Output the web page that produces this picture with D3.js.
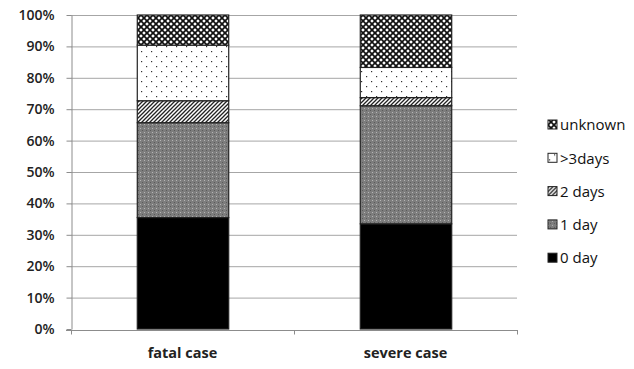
<!DOCTYPE html>
<html><head><meta charset="utf-8">
<script src="https://cdn.jsdelivr.net/npm/d3@7"></script>
<style>body{margin:0;background:#fff}svg{display:block}</style>
</head><body>
<svg id="c" width="634" height="369"></svg>
<script>
const categories = ["fatal case", "severe case"];
const seriesNames = ["0 day", "1 day", "2 days", ">3days", "unknown"];
const val0day = [35.5, 33.5];
const val1day = [30.2, 37.6];
const val2days = [7.0, 2.6];
const val3days = [17.7, 9.6];
const valUnknown = [9.6, 16.7];
const yTicks = [0,10,20,30,40,50,60,70,80,90,100];

const seriesVals = [val0day, val1day, val2days, val3days, valUnknown];
const data = categories.map((c,i)=>{const o={cat:c}; seriesNames.forEach((s,j)=>o[s]=seriesVals[j][i]); return o;});
const stack = d3.stack().keys(seriesNames)(data);

const svg = d3.select("#c");
const m = {l:71, r:517, t:15, b:329};
const x = d3.scaleBand().domain(categories).range([m.l, m.r]).paddingInner(0.59).paddingOuter(0.295);
const y = d3.scaleLinear().domain([0,100]).range([m.b, m.t]);

const defs = svg.append("defs");
// unknown: diamond lattice
let p = defs.append("pattern").attr("id","pUnk").attr("patternUnits","userSpaceOnUse").attr("width",6).attr("height",6);
p.append("rect").attr("width",6).attr("height",6).attr("fill","#fff");
p.append("path").attr("d","M0,0L6,6M6,0L0,6M-3,3L0,6M3,-3L9,3M-3,3L3,-3M3,9L9,3").attr("stroke","#111").attr("stroke-width",1.7);
// >3days: sparse dots
p = defs.append("pattern").attr("id","p3").attr("patternUnits","userSpaceOnUse").attr("width",10).attr("height",10);
p.append("rect").attr("width",10).attr("height",10).attr("fill","#fff");
p.append("rect").attr("x",1).attr("y",1).attr("width",1.2).attr("height",1.2).attr("fill","#333");
p.append("rect").attr("x",6).attr("y",6).attr("width",1.2).attr("height",1.2).attr("fill","#333");
// 2 days: diagonal stripes
p = defs.append("pattern").attr("id","p2").attr("patternUnits","userSpaceOnUse").attr("width",4).attr("height",4);
p.append("rect").attr("width",4).attr("height",4).attr("fill","#fff");
p.append("path").attr("d","M-1,1L1,-1M0,4L4,0M3,5L5,3").attr("stroke","#222").attr("stroke-width",1.3);
// 1 day: gray texture
p = defs.append("pattern").attr("id","p1").attr("patternUnits","userSpaceOnUse").attr("width",4).attr("height",4);
p.append("rect").attr("width",4).attr("height",4).attr("fill","#7d7d7d");
p.append("rect").attr("x",0).attr("y",0).attr("width",1).attr("height",1).attr("fill","#b5b5b5");
p.append("rect").attr("x",2).attr("y",2).attr("width",1).attr("height",1).attr("fill","#5a5a5a");

const fills = {"0 day":"#000", "1 day":"url(#p1)", "2 days":"url(#p2)", ">3days":"url(#p3)", "unknown":"url(#pUnk)"};

// gridlines
svg.append("g").selectAll("line").data(yTicks.filter(t=>t>0)).join("line")
  .attr("x1",m.l).attr("x2",m.r).attr("y1",d=>y(d)+0.5).attr("y2",d=>y(d)+0.5)
  .attr("stroke","#a6a6a6").attr("stroke-width",1);

// bars
svg.append("g").selectAll("g").data(stack).join("g")
  .selectAll("rect").data(d=>d.map(v=>({v,key:d.key}))).join("rect")
  .attr("x",d=>x(d.v.data.cat)+0.5).attr("width",x.bandwidth())
  .attr("y",d=>y(d.v[1])).attr("height",d=>y(d.v[0])-y(d.v[1]))
  .attr("fill",d=>fills[d.key]).attr("stroke","#222").attr("stroke-width",1.2);

// y axis
const ya = svg.append("g").attr("transform",`translate(${m.l+0.5},0)`)
  .call(d3.axisLeft(y).tickValues(yTicks).tickFormat(d=>d+"%").tickSize(5).tickSizeOuter(0));
ya.select(".domain").attr("stroke","#8c8c8c");
ya.selectAll(".tick line").attr("stroke","#8c8c8c");
ya.selectAll("text").attr("x",-17).attr("font-family","Open Sans, sans-serif").attr("font-size",14).attr("font-weight",600).attr("fill","#222");

// x axis
const xa = svg.append("g").attr("transform",`translate(0,${m.b+1.5})`);
xa.append("line").attr("x1",m.l-5).attr("x2",m.r+1).attr("stroke","#8c8c8c");
const bounds = [m.l, (m.l+m.r)/2, m.r];
xa.selectAll(".tk").data(bounds).join("line").attr("x1",d=>d+0.5).attr("x2",d=>d+0.5).attr("y1",0).attr("y2",4).attr("stroke","#8c8c8c");
xa.selectAll("text").data(categories).join("text")
  .attr("x",d=>x(d)+x.bandwidth()/2).attr("y",27).attr("text-anchor","middle")
  .attr("font-family","Open Sans, sans-serif").attr("font-size",14.5).attr("font-weight",700).attr("fill","#222").text(d=>d);

// legend
const legOrder = seriesNames.slice().reverse();
const lg = svg.append("g").attr("transform","translate(548,125)");
const li = lg.selectAll("g").data(legOrder).join("g").attr("transform",(d,i)=>`translate(0,${i*33.3})`);
li.append("rect").attr("x",0).attr("y",-5).attr("width",9).attr("height",9).attr("fill",d=>fills[d]).attr("stroke","#222").attr("stroke-width",1);
li.append("text").attr("x",12).attr("y",0).attr("dy","0.35em").attr("font-family","Open Sans, sans-serif").attr("font-size",15).attr("fill","#111").text(d=>d);
</script>
</body></html>
